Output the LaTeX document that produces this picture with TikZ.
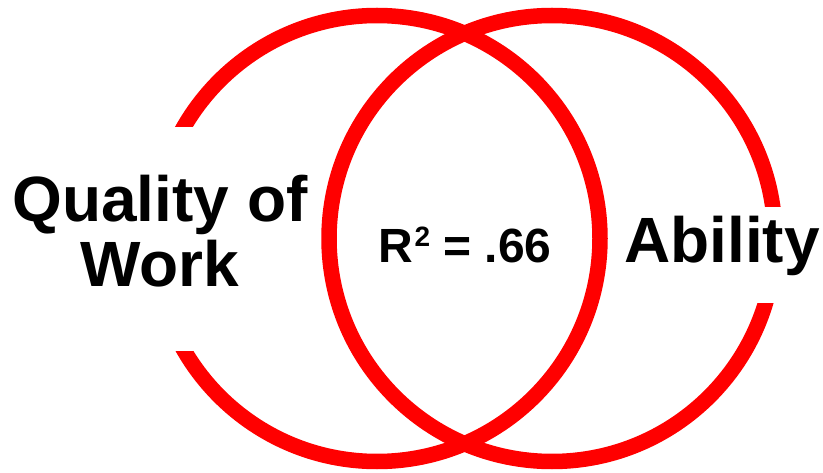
\documentclass[tikz,border=0pt]{standalone}
\usepackage{fontspec}
\setmainfont{Liberation Sans}
\begin{document}
\begin{tikzpicture}[x=1pt,y=1pt,
    ring/.style={draw=red, line width=15.5pt},
    bigtext/.style={font=\bfseries\fontsize{64}{65}\selectfont, inner sep=2pt}]
    \useasboundingbox (0,0) rectangle (823,472);

    \coordinate (lc) at (377,233.5);
    \coordinate (rc) at (552,233.5);
    \draw[ring] (lc) circle (223);
    \draw[ring] (rc) circle (223);

    \node[bigtext, fill=white, align=center, minimum height=224pt] (quality) at (160,233) {Quality of\\Work\rule[-16pt]{0pt}{0pt}};
    \node[bigtext, fill=white, anchor=base, text height=48pt, text depth=32pt, minimum height=96pt] (ability) at (722,209) {Ability};
    \node[font=\bfseries\fontsize{48}{50}\selectfont, anchor=base] (rsq) at (465,209)
        {R\kern1.5pt\raisebox{16pt}{\fontsize{28}{28}\selectfont 2} = .66};
\end{tikzpicture}
\end{document}
